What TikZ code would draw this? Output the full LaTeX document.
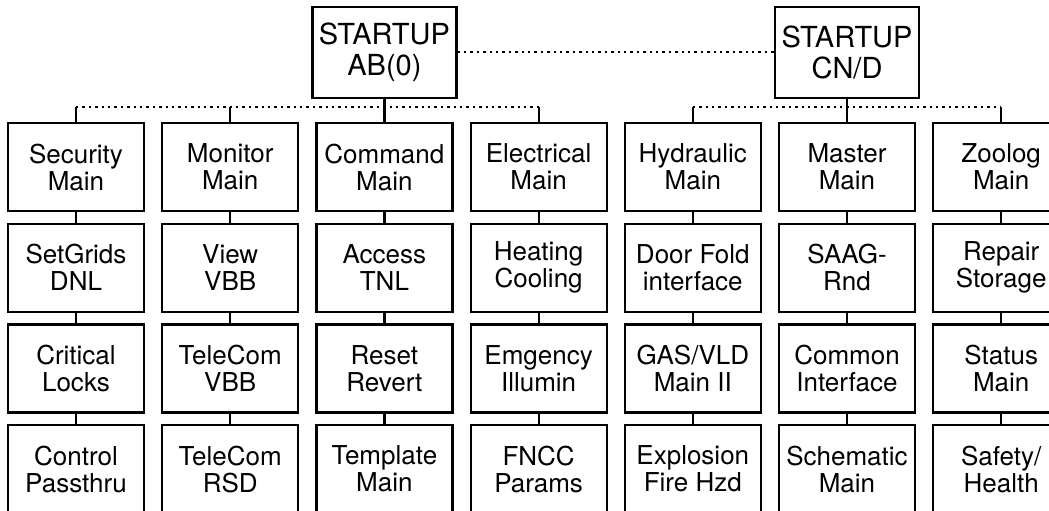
\documentclass[tikz,border=0pt]{standalone}
\usepackage{fontspec}
\setmainfont{TeX Gyre Heros}
\usetikzlibrary{positioning}

\begin{document}
\begin{tikzpicture}[
    x=0.5pt, y=-0.5pt,
    node distance=5.25pt and 8pt,
    box/.style={rectangle, draw, line width=1.1pt, minimum width=68pt, minimum height=44pt, inner sep=1pt, align=center, font=\fontsize{13}{13.5}\selectfont},
    head/.style={box, minimum width=72pt, minimum height=45.5pt, font=\fontsize{14.5}{15.5}\selectfont},
    tie/.style={draw, line width=1.1pt},
    bus/.style={draw, line width=0.9pt, dash pattern=on 1.2pt off 2pt}
]
\useasboundingbox (0,0) rectangle (1049,510);

% Nodes
\node [box] (security) at (76,167) {Security\\Main};
\node [box, right=of security] (monitor) {Monitor\\Main};
\node [box, right=of monitor] (command) {Command\\Main};
\node [box, right=of command] (electrical) {Electrical\\Main};
\node [box, right=of electrical] (hydraulic) {Hydraulic\\Main};
\node [box, right=of hydraulic] (master) {Master\\Main};
\node [box, right=of master] (zoolog) {Zoolog\\Main};

\node [box, below=of security] (setgrids) {SetGrids\\DNL};
\node [box, below=of setgrids] (critical) {Critical\\Locks};
\node [box, below=of critical] (control) {Control\\Passthru};

\node [box, below=of monitor] (view) {View\\VBB};
\node [box, below=of view] (televbb) {TeleCom\\VBB};
\node [box, below=of televbb] (telersd) {TeleCom\\RSD};

\node [box, below=of command] (access) {Access\\TNL};
\node [box, below=of access] (reset) {Reset\\Revert};
\node [box, below=of reset] (template) {Template\\Main};

\node [box, below=of electrical] (heating) {Heating\\Cooling};
\node [box, below=of heating] (emgency) {Emgency\\Illumin};
\node [box, below=of emgency] (fncc) {FNCC\\Params};

\node [box, below=of hydraulic] (door) {Door Fold\\interface};
\node [box, below=of door] (gas) {GAS/VLD\\Main II};
\node [box, below=of gas] (explosion) {Explosion\\Fire Hzd};

\node [box, below=of master] (saag) {SAAG-\\Rnd};
\node [box, below=of saag] (common) {Common\\Interface};
\node [box, below=of common] (schematic) {Schematic\\Main};

\node [box, below=of zoolog] (repair) {Repair\\Storage};
\node [box, below=of repair] (status) {Status\\Main};
\node [box, below=of status] (safety) {Safety/\\Health};

\node [head, above=11.5pt of command] (ab) {STARTUP\\AB(0)};
\node [head, above=11.5pt of master] (cnd) {STARTUP\\CN/D};

\coordinate (busline) at ([yshift=7.5pt]security.north);

% Lines
\path [bus] (ab) -- (cnd);
\path [tie] (ab) -- (command);
\path [tie] (cnd) -- (master);
\path [bus] (security.north |- busline) -- (electrical.north |- busline);
\path [bus] (hydraulic.north |- busline) -- (zoolog.north |- busline);
\foreach \top in {security, monitor, electrical, hydraulic, zoolog}
    \path [tie] (\top) -- (\top.north |- busline);
\foreach \a/\b in {security/setgrids, setgrids/critical, critical/control,
                   monitor/view, view/televbb, televbb/telersd,
                   command/access, access/reset, reset/template,
                   electrical/heating, heating/emgency, emgency/fncc,
                   hydraulic/door, door/gas, gas/explosion,
                   master/saag, saag/common, common/schematic,
                   zoolog/repair, repair/status, status/safety}
    \path [tie] (\a) -- (\b);

\end{tikzpicture}
\end{document}
